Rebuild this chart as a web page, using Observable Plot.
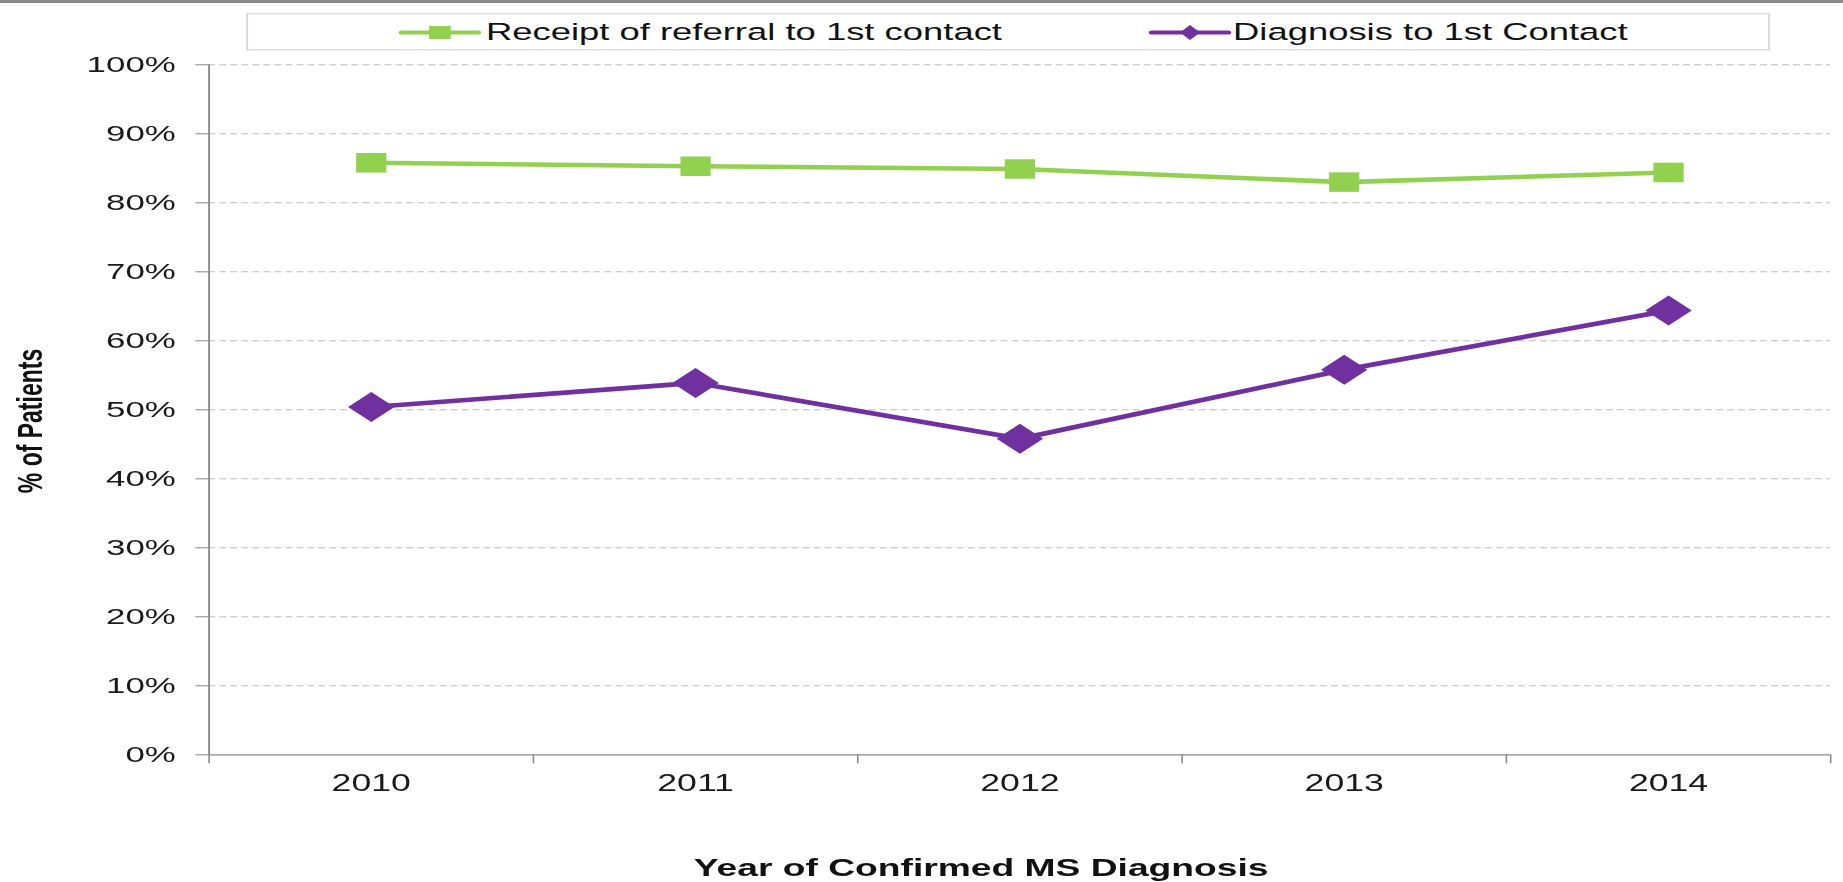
<!DOCTYPE html>
<html>
<head>
<meta charset="utf-8">
<script src="https://cdn.jsdelivr.net/npm/d3@7"></script>
<script src="https://cdn.jsdelivr.net/npm/@observablehq/plot@0.6"></script>
<style>
  html, body { margin: 0; padding: 0; background: #fff; overflow: hidden; }
  #wrap { position: relative; width: 1189px; height: 882px; transform: scaleX(1.55); transform-origin: 0 0;
          font-family: "Liberation Sans", Arial, sans-serif; }
  #topbar { position: absolute; left: 0; top: 0; width: 1189px; height: 3px; background: #8a8a8a; }
  #chart { position: absolute; left: 0; top: 0; }
  #legend { position: absolute; left: 0; top: 0; }
  .title { position: absolute; font-weight: bold; color: #111; white-space: nowrap; }
</style>
</head>
<body>
<div id="wrap">
  <div id="chart"></div>
  <svg id="legend" width="1189" height="60"></svg>
  <div id="topbar"></div>
</div>
<script>
// ---- data ----
const years = [2010, 2011, 2012, 2013, 2014];
const referral = [85.8, 85.3, 84.9, 83.0, 84.4];
const diagnosis = [50.4, 53.9, 45.8, 55.8, 64.4];
const seriesNames = ["Receipt of referral to 1st contact", "Diagnosis to 1st Contact"];
const seriesColors = ["#92D050", "#7030A0"];
const yTicks = [0, 10, 20, 30, 40, 50, 60, 70, 80, 90, 100];
const xTitle = "Year of Confirmed  MS Diagnosis";
const yTitle = "% of Patients";

const rows = [];
years.forEach((yr, i) => {
  rows.push({year: yr, value: referral[i], series: seriesNames[0]});
  rows.push({year: yr, value: diagnosis[i], series: seriesNames[1]});
});
const boundaries = years.map(y => y - 0.5).concat([years[years.length - 1] + 0.5]);

const W = 1189, H = 882;
const fontFamily = '"Liberation Sans", Arial, sans-serif';

const chart = Plot.plot({
  width: W, height: H,
  marginLeft: 134.4, marginRight: 8.4, marginTop: 64.3, marginBottom: 127.7,
  style: {fontFamily, fontSize: "22.5px", color: "#1a1a1a", background: "transparent", overflow: "visible"},
  x: {domain: [boundaries[0], boundaries[boundaries.length - 1]]},
  y: {domain: [0, 100]},
  color: {domain: seriesNames, range: seriesColors},
  marks: [
    Plot.gridY(yTicks.filter(t => t > 0), {stroke: "#bdbdbd", strokeOpacity: 1, strokeDasharray: "4.5,2.6", strokeWidth: 1}),
    Plot.axisY({ticks: yTicks, tickSize: 8.4, tickPadding: 13.1, tickFormat: d => d + "%", label: null,
                stroke: "#888", fill: "#1a1a1a", fontSize: 22.5}),
    Plot.axisX({ticks: boundaries, tickSize: 9, tickFormat: () => "", label: null, stroke: "#888"}),
    Plot.axisX({ticks: years, tickSize: 0, tickPadding: 19.4, tickFormat: d => String(d), label: null,
                fill: "#1a1a1a", fontSize: 23}),
    Plot.ruleX([boundaries[0]], {stroke: "#888", strokeWidth: 1.2}),
    Plot.ruleY([0], {stroke: "#888", strokeWidth: 1.3}),
    Plot.line(rows, {x: "year", y: "value", z: "series", stroke: "series", strokeWidth: 4.6}),
    Plot.dot(rows.filter(d => d.series === seriesNames[0]),
             {x: "year", y: "value", symbol: "square", r: 11, fill: seriesColors[0], stroke: "none"}),
    Plot.dot(rows.filter(d => d.series === seriesNames[1]),
             {x: "year", y: "value", symbol: "diamond2", r: 13.5, fill: seriesColors[1], stroke: "none"})
  ]
});
document.getElementById("chart").appendChild(chart);

// ---- legend ----
const lg = d3.select("#legend");
lg.append("rect").attr("x", 159.4).attr("y", 13.8).attr("width", 982).attr("height", 36)
  .attr("fill", "#fff").attr("stroke", "#d9d9d9").attr("stroke-width", 1.3);
const items = [
  {x0: 259.2, x1: 308.4, tx: 313.5, shape: "square"},
  {x0: 743.2, x1: 792.3, tx: 795.5, shape: "diamond"}
];
const ly = 32.5;
items.forEach((it, i) => {
  lg.append("line").attr("x1", it.x0).attr("x2", it.x1).attr("y1", ly).attr("y2", ly)
    .attr("stroke", seriesColors[i]).attr("stroke-width", 4).attr("stroke-linecap", "round");
  const cx = (it.x0 + it.x1) / 2;
  if (it.shape === "square") {
    lg.append("rect").attr("x", cx - 7).attr("y", ly - 6.5).attr("width", 14).attr("height", 13)
      .attr("fill", seriesColors[i]);
  } else {
    lg.append("path").attr("d", `M${cx},${ly - 7.5}L${cx + 6.5},${ly}L${cx},${ly + 7.5}L${cx - 6.5},${ly}Z`)
      .attr("fill", seriesColors[i]);
  }
  lg.append("text").attr("x", it.tx).attr("y", 39.8).attr("font-family", fontFamily)
    .attr("font-size", 23.5).attr("fill", "#111").text(seriesNames[i]);
});

// ---- axis titles ----
const wrap = document.getElementById("wrap");
const xt = document.createElement("div");
xt.className = "title";
xt.textContent = xTitle;
xt.style.fontSize = "24px";
xt.style.left = "0px";
xt.style.width = "1266px";
xt.style.textAlign = "center";
xt.style.top = "854px";
xt.style.lineHeight = "28px";
wrap.appendChild(xt);

const yt = document.createElement("div");
yt.className = "title";
yt.textContent = yTitle;
yt.style.fontSize = "23px";
yt.style.lineHeight = "26px";
yt.style.left = "18.7px";
yt.style.top = "421px";
yt.style.transform = "translate(-50%, -50%) rotate(-90deg)";
wrap.appendChild(yt);
</script>
</body>
</html>
